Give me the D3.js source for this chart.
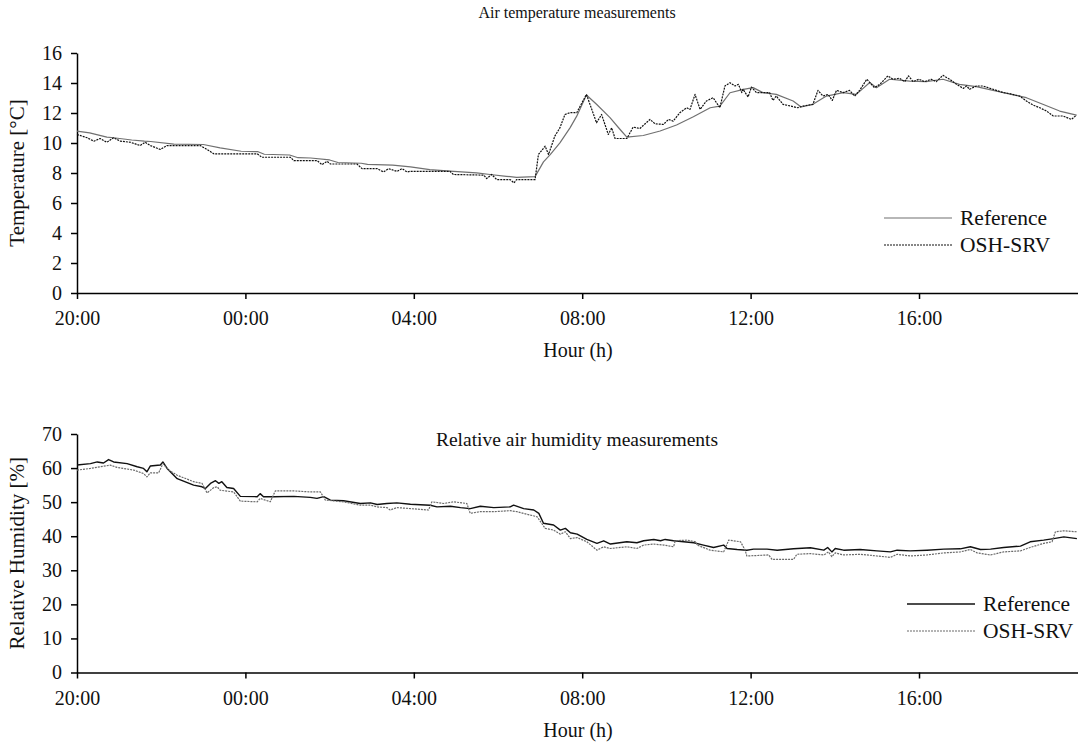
<!DOCTYPE html>
<html>
<head>
<meta charset="utf-8">
<script src="https://cdn.jsdelivr.net/npm/d3@7"></script>
<style>
  body { margin: 0; background: #fff; }
  svg { display: block; font-family: "Liberation Serif", "Times New Roman", serif; }
  .axis path, .axis line { stroke: #000; stroke-width: 1.5; }
</style>
</head>
<body>
<svg id="chart" width="1078" height="742"></svg>
<script>
// hours counted from 20:00 on the first day
var tickHours = [0, 4, 8, 12, 16, 20];
var tickLabels = ["20:00", "00:00", "04:00", "08:00", "12:00", "16:00"];
var seriesNames = ["Reference", "OSH-SRV"];

// air temperature [°C]
var tempRefHours = [0, 0.3, 0.71, 0.87, 1.3, 1.6, 1.75, 2.3, 3.0, 3.4, 3.9, 4.3, 4.45, 5.05, 5.25, 5.55, 6.0, 6.2, 6.75, 6.9, 7.5, 7.92,
  8.38, 8.86, 9.49, 9.81, 10.2, 10.44, 10.88, 11.08, 11.24, 11.47, 11.71, 11.87, 12.1, 12.34, 12.66, 12.9, 13.06, 13.45, 13.85, 14.24, 14.64, 15.04, 15.27, 15.51, 15.83,
  16.06, 16.29, 16.61, 17.01, 17.2, 17.48, 17.8, 18.2, 18.51, 18.83, 18.99, 19.3, 19.78, 20.17, 20.57, 20.96, 21.36, 21.76, 22.55, 22.94, 23.34, 23.74];
var tempRefValues = [10.79, 10.68, 10.39, 10.35, 10.2, 10.12, 10.1, 9.92, 9.9, 9.68, 9.45, 9.42, 9.25, 9.2, 9.02, 9.0, 8.87, 8.7, 8.65, 8.57, 8.53, 8.41,
  8.23, 8.12, 8.01, 7.9, 7.78, 7.71, 7.76, 8.74, 9.23, 10.01, 11.01, 11.79, 13.2, 12.58, 11.69, 10.9, 10.39, 10.5, 10.8, 11.2, 11.75, 12.35, 12.46, 13.35, 13.58,
  13.69, 13.36, 13.24, 12.8, 12.4, 12.58, 13.13, 13.36, 13.24, 14.03, 13.69, 14.25, 14.13, 14.09, 14.25, 13.91, 13.76, 13.51, 13.02, 12.58, 12.13, 11.86];

var tempOshHours = [0, 0.24, 0.4, 0.55, 0.71, 0.87, 1.03, 1.27, 1.5, 1.62, 1.74, 1.98, 2.14, 2.93, 3.09, 3.25, 4.28, 4.39, 5.07, 5.15, 5.7, 5.82, 5.94, 6.02, 6.65, 6.77, 7.13, 7.28, 7.4, 7.6, 7.72, 7.84,
  7.91, 8.86, 8.94, 9.66, 9.73, 9.85, 9.97, 10.29, 10.38, 10.44, 10.88, 10.96, 11.12, 11.2, 11.35, 11.47, 11.59, 11.71, 11.87, 12.1, 12.34, 12.46, 12.62, 12.7, 12.78, 13.06, 13.21, 13.37, 13.61, 13.73, 13.93, 14.05, 14.16, 14.32, 14.48, 14.56, 14.68, 14.8, 14.95, 15.11, 15.27, 15.39, 15.51, 15.63, 15.71, 15.79,
  15.82, 15.94, 16.02, 16.14, 16.45, 16.53, 16.61, 16.77, 17.12, 17.24, 17.48, 17.6, 17.72, 17.84, 17.94, 18.04, 18.2, 18.35, 18.47, 18.59, 18.76, 18.94, 19.07, 19.26, 19.38, 19.54, 19.66, 19.75, 19.86, 20.0, 20.13, 20.29, 20.41, 20.57, 20.73, 20.89, 21.05, 21.13, 21.2, 21.36, 21.52, 21.76, 22.0, 22.15, 22.39, 22.55, 22.71, 22.87, 23.03, 23.19, 23.42, 23.62, 23.74];
var tempOshValues = [10.57, 10.35, 10.12, 10.3, 10.05, 10.35, 10.12, 10.05, 9.83, 10.05, 9.83, 9.57, 9.83, 9.83, 9.57, 9.28, 9.28, 9.05, 9.05, 8.83, 8.83, 8.56, 8.78, 8.6, 8.6, 8.29, 8.29, 8.07, 8.29, 8.11, 8.29, 8.07,
  8.11, 8.11, 7.9, 7.86, 7.63, 7.9, 7.56, 7.56, 7.34, 7.56, 7.56, 9.23, 9.79, 9.23, 10.46, 11.01, 11.9, 12.02, 12.02, 13.24, 11.35, 11.9, 10.57, 11.01, 10.3, 10.3, 11.06, 10.97, 11.57, 11.28, 11.24, 11.57, 11.46, 12.02, 12.35, 12.24, 13.24, 12.24, 12.8, 13.02, 12.35, 13.8, 14.02, 13.8, 13.91, 13.36,
  13.58, 13.07, 13.73, 13.36, 13.36, 12.84, 13.13, 12.58, 12.35, 12.46, 12.58, 13.51, 13.13, 13.24, 12.84, 13.51, 13.36, 13.51, 13.13, 13.51, 14.25, 13.69, 13.91, 14.47, 14.25, 14.31, 14.09, 14.47, 14.09, 14.25, 14.09, 14.25, 14.09, 14.51, 14.25, 13.91, 13.64, 13.8, 13.58, 13.8, 13.8, 13.58, 13.36, 13.29, 13.13, 12.8, 12.53, 12.35, 12.13, 11.8, 11.8, 11.57, 11.86];

// relative air humidity [%]
var rhRefHours = [0, 0.32, 0.48, 0.63, 0.75, 0.87, 1.19, 1.43, 1.58, 1.66, 1.74, 1.98, 2.04, 2.14, 2.38, 2.77, 2.97, 3.05, 3.17, 3.29, 3.37, 3.44, 3.56, 3.72, 3.88, 4.28, 4.35, 4.43, 4.67, 5.15, 5.54, 5.7, 5.86, 6.02, 6.33, 6.73, 6.97, 7.13, 7.36, 7.6, 7.92,
  8.39, 8.55, 8.87, 9.11, 9.34, 9.58, 9.9, 10.29, 10.37, 10.61, 10.85, 10.97, 11.08, 11.32, 11.48, 11.6, 11.72, 11.88,
  12.11, 12.35, 12.51, 12.67, 13.06, 13.3, 13.46, 13.7, 13.86, 13.97, 14.17, 14.41, 14.65, 14.88, 15.12, 15.36, 15.44, 15.68, 15.91, 16.07, 16.39, 16.63, 17.02, 17.42, 17.74, 17.83, 17.93, 18.01, 18.21, 18.6, 19.0, 19.32, 19.48, 19.79, 20.19, 20.59, 20.98, 21.22, 21.46, 21.7, 22.01, 22.41, 22.64, 22.96, 23.2, 23.44, 23.75];
var rhRefValues = [60.9, 61.3, 61.8, 61.5, 62.5, 61.8, 61.3, 60.4, 59.9, 58.9, 60.6, 60.9, 61.8, 59.9, 56.9, 55.0, 54.5, 54.0, 55.5, 56.3, 55.5, 56.0, 54.3, 54.0, 51.7, 51.6, 52.5, 51.6, 51.6, 51.7, 51.4, 51.1, 51.6, 50.6, 50.4, 49.6, 49.8, 49.3, 49.6, 49.8, 49.4,
  49.1, 48.6, 48.8, 48.4, 48.1, 48.8, 48.4, 48.6, 49.1, 48.1, 47.7, 46.7, 43.8, 43.3, 41.8, 42.3, 41.0, 40.6,
  39.05, 37.9, 38.66, 37.7, 38.37, 38.07, 38.66, 39.05, 38.66, 39.05, 38.66, 38.37, 38.07, 37.4, 36.7, 37.4, 36.4, 36.1, 35.9, 36.2, 36.2, 35.9, 36.3, 36.6, 35.9, 36.7, 35.4, 36.4, 35.9, 36.1, 35.7, 35.4, 35.9, 35.7, 35.9, 36.2, 36.3, 36.9, 36.1, 36.2, 36.7, 37.1, 38.37, 38.86, 39.3, 39.8, 39.3];

var rhOshHours = [0, 0.32, 0.63, 0.79, 0.95, 1.35, 1.58, 1.66, 1.74, 1.94, 2.04, 2.18, 2.38, 2.77, 2.97, 3.09, 3.25, 3.33, 3.4, 3.72, 3.88, 4.28, 4.35, 4.59, 4.71, 5.15, 5.54, 5.78, 5.9, 6.33, 6.73, 6.97, 7.13, 7.36, 7.44, 7.6, 7.92,
  8.35, 8.43, 8.71, 8.95, 9.26, 9.34, 9.58, 9.9, 10.29, 10.45, 10.77, 10.93, 11.12, 11.32, 11.48, 11.6, 11.72, 11.88,
  12.11, 12.35, 12.51, 12.67, 13.06, 13.3, 13.46, 13.7, 13.94, 14.17, 14.21, 14.49, 14.69, 14.73, 15.04, 15.36, 15.48, 15.76, 15.87, 15.91, 16.43, 16.51, 17.02, 17.1, 17.42, 17.74, 17.85, 17.93, 18.01, 18.21, 18.6, 19.0, 19.32, 19.48, 19.79, 20.19, 20.59, 20.98, 21.22, 21.38, 21.7, 22.01, 22.41, 22.64, 22.96, 23.16, 23.24, 23.44, 23.75];
var rhOshValues = [59.4, 59.9, 60.55, 60.85, 60.2, 59.4, 58.4, 57.4, 58.6, 58.6, 61.3, 59.4, 57.9, 56.0, 55.5, 52.7, 54.3, 54.5, 53.5, 53.0, 50.3, 50.1, 51.1, 50.1, 53.3, 53.3, 53.0, 53.0, 50.6, 50.1, 49.1, 49.1, 48.6, 48.4, 47.7, 48.4, 48.1,
  47.7, 50.1, 49.6, 50.1, 49.6, 46.7, 47.2, 47.2, 47.5, 47.2, 46.2, 45.7, 42.3, 41.8, 40.6, 41.3, 39.3, 39.6,
  38.37, 35.9, 36.9, 36.4, 36.9, 36.4, 37.4, 37.7, 37.4, 36.9, 38.66, 38.86, 38.37, 37.4, 35.9, 35.4, 38.86, 38.37, 35.9, 34.2, 34.5, 33.2, 33.2, 34.7, 34.9, 34.5, 35.4, 34.0, 35.1, 34.5, 34.7, 34.2, 33.8, 34.7, 34.2, 34.5, 35.1, 35.4, 36.1, 35.1, 34.5, 35.4, 35.7, 36.7, 37.9, 38.37, 41.3, 41.6, 41.3];

var svg = d3.select("#chart");
var left = 77, right = 1079;
var serif = "'Liberation Serif', 'Times New Roman', serif";

function drawPanel(opts) {
  var x = d3.scaleLinear().domain([0, 23.8]).range([left, right]);
  var y = d3.scaleLinear().domain(opts.yDomain).range([opts.bottom, opts.top]);
  var g = svg.append("g");

  // axes
  g.append("g").attr("class", "axis")
    .attr("transform", "translate(0," + opts.bottom + ")")
    .call(d3.axisBottom(x).tickValues(tickHours)
      .tickFormat(function(d, i) { return tickLabels[i]; })
      .tickSize(6).tickPadding(12).tickSizeOuter(0));
  g.append("g").attr("class", "axis")
    .attr("transform", "translate(" + left + ",0)")
    .call(d3.axisLeft(y).tickValues(opts.yTicks).tickSize(6).tickPadding(9).tickSizeOuter(0));
  g.selectAll(".axis")
    .attr("font-family", serif)
    .attr("font-size", 20);
  g.selectAll(".axis text")
    .style("font-family", serif)
    .style("font-size", "20px")
    .attr("fill", "#111");

  // series lines
  var line = d3.line()
    .x(function(d) { return x(d[0]); })
    .y(function(d) { return y(d[1]); });
  opts.series.forEach(function(s) {
    var pts = d3.zip(s.hours, s.values);
    g.append("path")
      .datum(pts)
      .attr("fill", "none")
      .attr("stroke", s.color)
      .attr("stroke-width", s.width)
      .attr("stroke-dasharray", s.dash)
      .attr("stroke-linejoin", "round")
      .attr("d", line);
  });

  // titles
  g.append("text").attr("x", 577).attr("y", opts.titleY)
    .attr("text-anchor", "middle").style("font-size", opts.titleSize).attr("fill", "#111")
    .text(opts.title);
  g.append("text").attr("x", 578).attr("y", opts.bottom + 64)
    .attr("text-anchor", "middle").style("font-size", "20px").attr("fill", "#111")
    .text("Hour (h)");
  g.append("text")
    .attr("transform", "translate(24," + ((opts.top + opts.bottom) / 2) + ") rotate(-90)")
    .attr("text-anchor", "middle").style("font-size", "21px").attr("fill", "#111")
    .text(opts.yLabel);

  // legend
  opts.series.forEach(function(s, i) {
    var ly = opts.legendY + i * 27;
    g.append("line")
      .attr("x1", opts.legendX).attr("x2", opts.legendX + 68)
      .attr("y1", ly).attr("y2", ly)
      .attr("stroke", s.color).attr("stroke-width", s.width)
      .attr("stroke-dasharray", s.dash);
    g.append("text").attr("x", opts.legendX + 76).attr("y", ly + 7)
      .style("font-size", "21.5px").attr("fill", "#111")
      .text(seriesNames[i]);
  });
}

drawPanel({
  top: 53, bottom: 293, yDomain: [0, 16], yTicks: [0, 2, 4, 6, 8, 10, 12, 14, 16],
  title: "Air temperature measurements", titleY: 18, titleSize: "16px", yLabel: "Temperature [°C]",
  legendX: 884, legendY: 218,
  series: [
    { hours: tempRefHours, values: tempRefValues, color: "#707070", width: 1.2, dash: null },
    { hours: tempOshHours, values: tempOshValues, color: "#111", width: 1.2, dash: "2,1" }
  ]
});

drawPanel({
  top: 434, bottom: 672.5, yDomain: [0, 70], yTicks: [0, 10, 20, 30, 40, 50, 60, 70],
  title: "Relative air humidity measurements", titleY: 446, titleSize: "19.5px", yLabel: "Relative Humidity [%]",
  legendX: 907, legendY: 604,
  series: [
    { hours: rhRefHours, values: rhRefValues, color: "#111", width: 1.4, dash: null },
    { hours: rhOshHours, values: rhOshValues, color: "#6a6a6a", width: 1.2, dash: "2,1" }
  ]
});
</script>
</body>
</html>
